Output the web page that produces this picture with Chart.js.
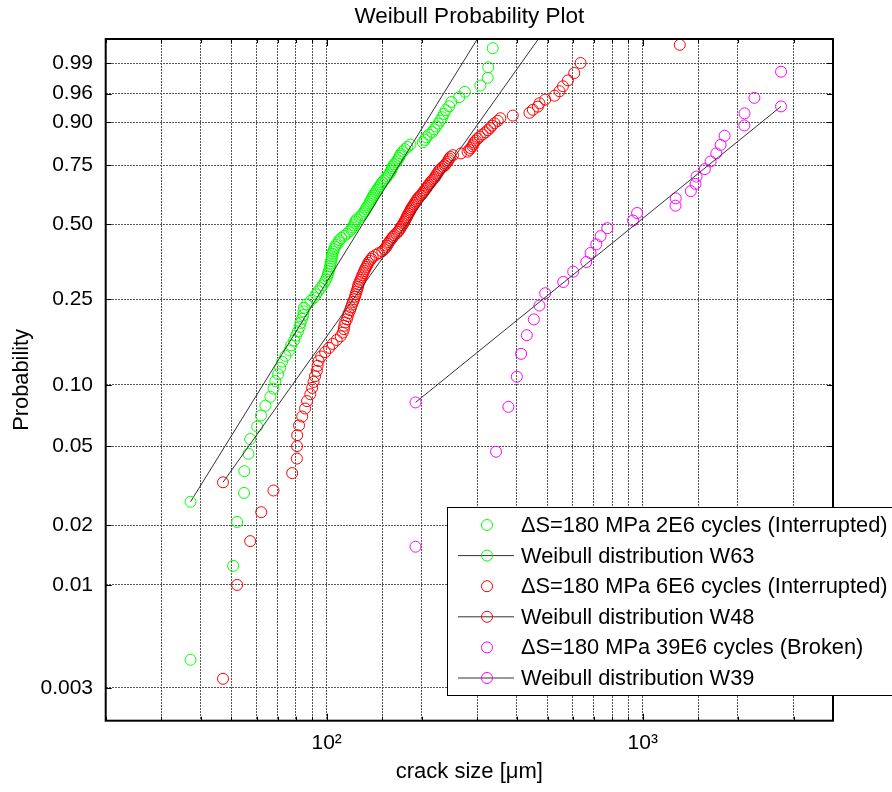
<!DOCTYPE html>
<html>
<head>
<meta charset="utf-8">
<title>Weibull Probability Plot</title>
<script src="https://cdn.jsdelivr.net/npm/chart.js@4.4.1/dist/chart.umd.min.js"></script>
<style>
  html, body { margin: 0; padding: 0; background: #fff; }
  #wrap { width: 892px; height: 792px; }
</style>
</head>
<body>
<div id="wrap"><canvas id="chart" width="892" height="792"></canvas></div>
<script>
// Crack sizes [µm] of each test series, sorted ascending
const greenSizes = [
  37.1, 50.6, 52.1, 54.8, 54.9, 56.6, 57.3, 60.3, 62.0, 64.0,
  66.4, 67.9, 68.8, 70.2, 71.3, 72.3, 74.1, 76.3, 77.2, 78.9,
  80.0, 81.2, 82.1, 82.7, 83.6, 84.4, 84.5, 84.8, 86.4, 89.0,
  91.3, 92.6, 94.0, 95.7, 97.1, 98.5, 99.5, 100.4, 101.0, 101.6,
  102.2, 102.6, 103.0, 103.3, 103.7, 103.9, 104.3, 104.9, 105.6, 106.4,
  107.2, 109.2, 109.6, 111.2, 113.6, 115.7, 117.9, 119.6, 120.9, 121.8,
  122.7, 123.3, 124.5, 127.3, 129.1, 130.6, 131.8, 132.8, 133.9, 135.4,
  136.4, 137.4, 138.4, 139.4, 140.5, 141.5, 143.0, 144.3, 145.7, 147.1,
  148.4, 150.0, 152.0, 153.9, 155.6, 157.3, 159.0, 160.2, 161.0, 162.0,
  163.7, 166.1, 167.6, 169.2, 170.4, 171.7, 174.2, 176.8, 180.1, 184.1,
  201.5, 204.4, 206.7, 210.5, 215.9, 219.1, 222.3, 225.6, 228.9, 232.3,
  234.8, 238.3, 244.1, 248.0, 262.6, 273.7, 306.4, 323.3, 324.7, 335.3
];
const redSizes = [
  47.0, 52.1, 57.3, 62.1, 67.9, 77.8, 80.5, 80.6, 80.7, 81.8,
  83.7, 85.5, 86.7, 88.8, 90.0, 90.9, 91.9, 93.1, 93.6, 94.3,
  96.1, 98.9, 101.8, 104.5, 107.6, 110.8, 112.4, 113.4, 113.7, 114.5,
  115.9, 116.6, 117.4, 118.6, 119.4, 120.3, 121.2, 122.2, 123.0, 123.6,
  124.3, 125.0, 125.7, 126.1, 127.1, 128.0, 128.9, 129.7, 130.7, 131.5,
  132.5, 133.5, 134.7, 135.4, 136.9, 138.4, 139.9, 143.0, 146.2, 150.0,
  152.2, 153.9, 155.2, 156.2, 157.6, 159.0, 160.6, 162.2, 163.7, 166.1,
  168.2, 169.8, 171.1, 172.1, 173.6, 174.9, 176.1, 177.2, 178.3, 179.4,
  180.3, 181.4, 182.7, 183.8, 184.7, 186.1, 187.4, 188.8, 190.2, 191.6,
  193.0, 194.4, 196.5, 198.7, 200.9, 202.4, 203.8, 206.1, 207.6, 209.1,
  210.6, 213.0, 214.5, 216.9, 219.3, 220.9, 222.5, 224.1, 225.8, 227.4,
  229.9, 233.3, 236.7, 238.5, 241.1, 242.9, 244.3, 246.4, 251.0, 266.0,
  279.1, 282.8, 285.9, 289.5, 291.2, 292.9, 296.6, 300.3, 305.3, 311.4,
  317.8, 323.4, 328.8, 333.7, 339.3, 347.9, 354.5, 388.1, 438.2, 449.2,
  465.9, 471.4, 491.4, 525.9, 545.5, 559.2, 580.0, 607.3, 635.9, 1310
];
const magentaSizes = [
  191.1, 343.6, 375.9, 399.7, 412.4, 429.9, 452.5, 471.4, 491.4, 560.4,
  602.9, 662.9, 684.0, 713.1, 735.9, 772.8, 932.3, 959.9, 1269.8, 1272,
  1419.9, 1469.5, 1480.3, 1572.8, 1639.6, 1709.3, 1763.8, 1816.1, 2097, 2100,
  2255.9, 2739.6
];

// Fitted Weibull parameters [scale µm, shape]
const fitW63 = [149.5, 2.60];
const fitW48 = [210.4, 2.265];
const fitW39 = [1256, 1.305];

const seriesLabels = [
  '\u0394S=180 MPa 2E6 cycles (Interrupted)',
  'Weibull distribution W63',
  '\u0394S=180 MPa 6E6 cycles (Interrupted)',
  'Weibull distribution W48',
  '\u0394S=180 MPa 39E6 cycles (Broken)',
  'Weibull distribution W39'
];
const seriesColors = ['#00ff00', '#ff0000', '#ff00ff'];

const yTickProbs  = [0.003, 0.01, 0.02, 0.05, 0.10, 0.25, 0.50, 0.75, 0.90, 0.96, 0.99];
const yTickLabels = ['0.003', '0.01', '0.02', '0.05', '0.10', '0.25', '0.50', '0.75', '0.90', '0.96', '0.99'];
const xTickLabels = { 100: '10\u00b2', 1000: '10\u00b3' };
const xRange = [20, 4000];
const probRange = [0.00204, 0.99777];

const FONT = "'Liberation Sans', Arial, Helvetica, sans-serif";

// Weibull probability paper: y = ln(-ln(1 - p))
const weibullZ = p => Math.log(-Math.log(1 - p));
// median plotting position of each ranked size
const rankPoints = sizes => sizes.map((x, i) => ({ x, y: weibullZ((i + 0.5) / sizes.length) }));
// fitted CDF as a straight line between the smallest and largest size
const fitLine = (sizes, fit) => {
  const [scale, shape] = fit;
  const ends = [Math.min(...sizes), Math.max(...sizes)];
  return ends.map(x => ({ x, y: shape * Math.log(x / scale) }));
};

const markerStyle = color => ({
  pointStyle: 'circle',
  pointRadius: 5.5,
  pointBorderWidth: 1,
  pointBorderColor: color,
  pointBackgroundColor: 'rgba(0,0,0,0)'
});

const datasets = [
  Object.assign({ label: seriesLabels[0], data: rankPoints(greenSizes), showLine: false, order: 6 }, markerStyle(seriesColors[0])),
  Object.assign({ label: seriesLabels[1], data: fitLine(greenSizes, fitW63), showLine: true, borderColor: '#333333', borderWidth: 1, order: 5 }, markerStyle(seriesColors[0])),
  Object.assign({ label: seriesLabels[2], data: rankPoints(redSizes), showLine: false, order: 4 }, markerStyle(seriesColors[1])),
  Object.assign({ label: seriesLabels[3], data: fitLine(redSizes, fitW48), showLine: true, borderColor: '#333333', borderWidth: 1, order: 3 }, markerStyle(seriesColors[1])),
  Object.assign({ label: seriesLabels[4], data: rankPoints(magentaSizes), showLine: false, order: 2 }, markerStyle(seriesColors[2])),
  Object.assign({ label: seriesLabels[5], data: fitLine(magentaSizes, fitW39), showLine: true, borderColor: '#333333', borderWidth: 1, order: 1 }, markerStyle(seriesColors[2]))
];

// Box frame, inward tick marks, title and the legend panel
const plotDecor = {
  id: 'plotDecor',
  afterDraw(chart) {
    const { ctx, chartArea: a, scales: { x, y } } = chart;
    const seg = (x1, y1, x2, y2) => { ctx.beginPath(); ctx.moveTo(x1, y1); ctx.lineTo(x2, y2); ctx.stroke(); };
    ctx.save();
    ctx.strokeStyle = '#000';
    ctx.lineWidth = 1;
    y.ticks.forEach(t => {
      const py = Math.round(y.getPixelForValue(t.value)) + 0.5;
      seg(a.left, py, a.left + 6, py);
      seg(a.right - 6, py, a.right, py);
    });
    x.ticks.forEach(t => {
      const px = Math.round(x.getPixelForValue(t.value)) + 0.5;
      const len = xTickLabels[t.value] ? 7 : 4;
      seg(px, a.bottom, px, a.bottom - len);
      seg(px, a.top, px, a.top + len);
    });
    ctx.lineWidth = 2;
    ctx.strokeRect(a.left, a.top, a.right - a.left, a.bottom - a.top);

    // title
    ctx.fillStyle = '#000';
    ctx.font = '22.5px ' + FONT;
    ctx.textAlign = 'center';
    ctx.textBaseline = 'middle';
    ctx.fillText('Weibull Probability Plot', (a.left + a.right) / 2, 17);

    // legend
    const box = { left: 447, top: 507, bottom: 695, right: 905 };
    ctx.fillStyle = '#fff';
    ctx.fillRect(box.left, box.top, box.right - box.left, box.bottom - box.top);
    ctx.lineWidth = 1;
    ctx.strokeStyle = '#000';
    ctx.strokeRect(box.left + 0.5, box.top + 0.5, box.right - box.left, box.bottom - box.top);
    ctx.font = '21.8px ' + FONT;
    ctx.textAlign = 'left';
    ctx.textBaseline = 'middle';
    chart.data.datasets.forEach((ds, i) => {
      const ry = 525 + i * 30.6;
      if (ds.showLine) {
        ctx.strokeStyle = ds.borderColor;
        ctx.lineWidth = 1;
        seg(458, ry, 514, ry);
      }
      ctx.strokeStyle = ds.pointBorderColor;
      ctx.lineWidth = 1;
      ctx.beginPath();
      ctx.arc(487, ry, 5.5, 0, Math.PI * 2);
      ctx.stroke();
      ctx.fillStyle = '#000';
      ctx.fillText(ds.label, 521, ry + 1);
    });
    ctx.restore();
  }
};

Chart.defaults.font.family = FONT;
Chart.defaults.color = '#000';

new Chart(document.getElementById('chart'), {
  type: 'scatter',
  data: { datasets },
  options: {
    responsive: false,
    animation: false,
    events: [],
    layout: { padding: { top: 39, right: 59, left: 0, bottom: 0 } },
    plugins: { legend: { display: false }, title: { display: false }, tooltip: { enabled: false } },
    scales: {
      x: {
        type: 'logarithmic',
        position: 'bottom',
        min: xRange[0],
        max: xRange[1],
        afterFit: s => { s.height = 71.3; },
        grid: { color: '#555555', lineWidth: 1, drawTicks: false },
        border: { display: false, dash: [2, 1] },
        ticks: {
          autoSkip: false,
          maxRotation: 0,
          padding: 10,
          font: { size: 21 },
          callback: v => xTickLabels[v] || ''
        },
        title: { display: true, text: 'crack size [\u03bcm]', font: { size: 22 }, padding: { top: 0, bottom: 6.4 } }
      },
      y: {
        type: 'linear',
        position: 'left',
        min: weibullZ(probRange[0]),
        max: weibullZ(probRange[1]),
        afterFit: s => { s.width = 105.7; },
        afterBuildTicks: s => { s.ticks = yTickProbs.map(p => ({ value: weibullZ(p) })); },
        grid: { color: '#555555', lineWidth: 1, drawTicks: false },
        border: { display: false, dash: [2, 1] },
        ticks: {
          autoSkip: false,
          padding: 12.7,
          font: { size: 21 },
          callback: (v, i) => yTickLabels[i]
        },
        title: { display: true, text: 'Probability', font: { size: 21.8 }, padding: { top: 9.4, bottom: 0 } }
      }
    }
  },
  plugins: [plotDecor]
});
</script>
</body>
</html>
